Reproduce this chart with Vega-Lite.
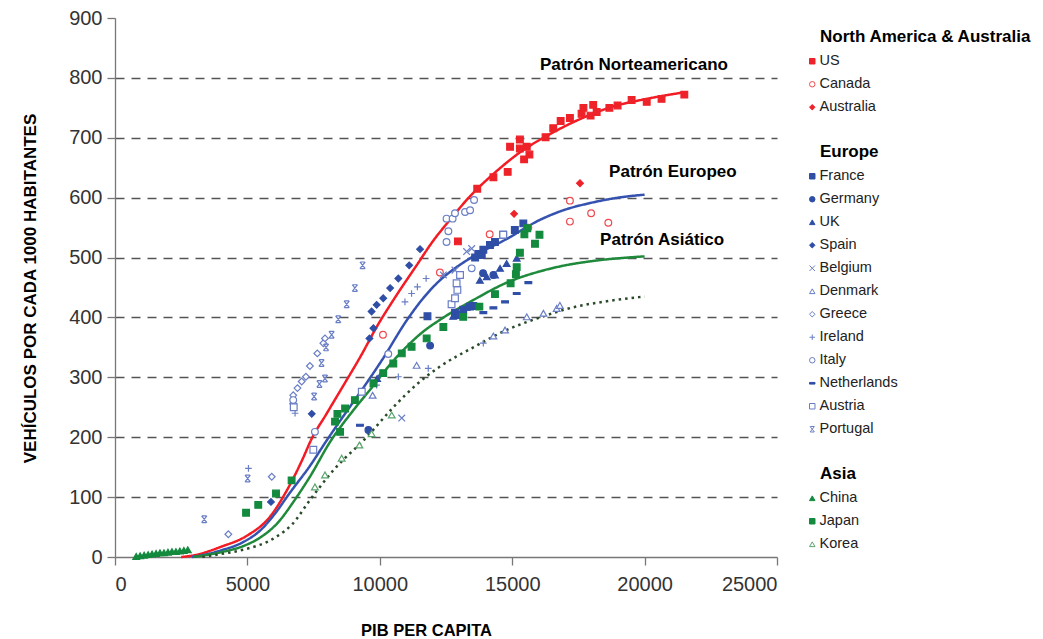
{
"$schema":"https://vega.github.io/schema/vega-lite/v6.json",
"width":662,"height":539,
"autosize":"none",
"padding":{"left":115,"top":18,"right":266,"bottom":82},
"background":"white",
"config":{"view":{"stroke":null},"font":"Liberation Sans",
 "legend":{"orient":"right","offset":32,"padding":11,"titleFontSize":17,"titleFontWeight":"bold","titleColor":"#000","labelFontSize":14.5,"labelColor":"#222","rowPadding":8,"titlePadding":8,"symbolSize":30,"symbolStrokeWidth":1,"symbolOffset":-15,"labelOffset":0,"titleLimit":400}},
"datasets":{
"pts":[
{"group":"NA","country":"US","gdp":12950,"veh":527},{"group":"NA","country":"US","gdp":13680,"veh":615},{"group":"NA","country":"US","gdp":14290,"veh":634},{"group":"NA","country":"US","gdp":14830,"veh":643},{"group":"NA","country":"US","gdp":14920,"veh":685},{"group":"NA","country":"US","gdp":15290,"veh":697},{"group":"NA","country":"US","gdp":15290,"veh":682},{"group":"NA","country":"US","gdp":15550,"veh":685},{"group":"NA","country":"US","gdp":15450,"veh":664},{"group":"NA","country":"US","gdp":15650,"veh":672},{"group":"NA","country":"US","gdp":16260,"veh":701},{"group":"NA","country":"US","gdp":16550,"veh":716},{"group":"NA","country":"US","gdp":16830,"veh":728},{"group":"NA","country":"US","gdp":17180,"veh":733},{"group":"NA","country":"US","gdp":17620,"veh":740},{"group":"NA","country":"US","gdp":17690,"veh":750},{"group":"NA","country":"US","gdp":17960,"veh":737},{"group":"NA","country":"US","gdp":18060,"veh":755},{"group":"NA","country":"US","gdp":18190,"veh":743},{"group":"NA","country":"US","gdp":18670,"veh":750},{"group":"NA","country":"US","gdp":18980,"veh":754},{"group":"NA","country":"US","gdp":19510,"veh":763},{"group":"NA","country":"US","gdp":20080,"veh":760},{"group":"NA","country":"US","gdp":20640,"veh":765},{"group":"NA","country":"US","gdp":21500,"veh":772},
{"group":"NA","country":"Canada","gdp":10120,"veh":371},{"group":"NA","country":"Canada","gdp":12270,"veh":475},{"group":"NA","country":"Canada","gdp":14150,"veh":539},{"group":"NA","country":"Canada","gdp":15610,"veh":550},{"group":"NA","country":"Canada","gdp":17180,"veh":595},{"group":"NA","country":"Canada","gdp":17180,"veh":560},{"group":"NA","country":"Canada","gdp":17980,"veh":574},{"group":"NA","country":"Canada","gdp":18630,"veh":558},
{"group":"NA","country":"Australia","gdp":15070,"veh":573},{"group":"NA","country":"Australia","gdp":17560,"veh":624},
{"group":"EU","country":"France","gdp":11800,"veh":402},{"group":"EU","country":"France","gdp":12840,"veh":408},{"group":"EU","country":"France","gdp":12960,"veh":404},{"group":"EU","country":"France","gdp":13150,"veh":413},{"group":"EU","country":"France","gdp":13410,"veh":418},{"group":"EU","country":"France","gdp":13530,"veh":419},{"group":"EU","country":"France","gdp":13720,"veh":506},{"group":"EU","country":"France","gdp":13850,"veh":504},{"group":"EU","country":"France","gdp":13910,"veh":513},{"group":"EU","country":"France","gdp":14160,"veh":521},{"group":"EU","country":"France","gdp":14350,"veh":526},{"group":"EU","country":"France","gdp":14660,"veh":538},{"group":"EU","country":"France","gdp":15100,"veh":546},{"group":"EU","country":"France","gdp":15420,"veh":557},{"group":"EU","country":"France","gdp":13600,"veh":500},
{"group":"EU","country":"Germany","gdp":9570,"veh":212},{"group":"EU","country":"Germany","gdp":11900,"veh":353},{"group":"EU","country":"Germany","gdp":14290,"veh":471},{"group":"EU","country":"Germany","gdp":13900,"veh":474},
{"group":"EU","country":"UK","gdp":12770,"veh":402},{"group":"EU","country":"UK","gdp":13280,"veh":417},{"group":"EU","country":"UK","gdp":13780,"veh":462},{"group":"EU","country":"UK","gdp":14040,"veh":468},{"group":"EU","country":"UK","gdp":14350,"veh":471},{"group":"EU","country":"UK","gdp":14540,"veh":482},{"group":"EU","country":"UK","gdp":14790,"veh":490},{"group":"EU","country":"UK","gdp":15170,"veh":499},{"group":"EU","country":"UK","gdp":10070,"veh":307},{"group":"EU","country":"UK","gdp":9900,"veh":298},
{"group":"EU","country":"Spain","gdp":5890,"veh":92},{"group":"EU","country":"Spain","gdp":7430,"veh":239},{"group":"EU","country":"Spain","gdp":9610,"veh":365},{"group":"EU","country":"Spain","gdp":9760,"veh":382},{"group":"EU","country":"Spain","gdp":9690,"veh":410},{"group":"EU","country":"Spain","gdp":9880,"veh":421},{"group":"EU","country":"Spain","gdp":10130,"veh":432},{"group":"EU","country":"Spain","gdp":10390,"veh":449},{"group":"EU","country":"Spain","gdp":10700,"veh":465},{"group":"EU","country":"Spain","gdp":11110,"veh":487},{"group":"EU","country":"Spain","gdp":11520,"veh":514},
{"group":"EU","country":"Belgium","gdp":13280,"veh":510},{"group":"EU","country":"Belgium","gdp":13470,"veh":515},{"group":"EU","country":"Belgium","gdp":12400,"veh":471},{"group":"EU","country":"Belgium","gdp":12840,"veh":479},{"group":"EU","country":"Belgium","gdp":10830,"veh":232},
{"group":"EU","country":"Denmark","gdp":11390,"veh":320},{"group":"EU","country":"Denmark","gdp":9730,"veh":270},{"group":"EU","country":"Denmark","gdp":14290,"veh":369},{"group":"EU","country":"Denmark","gdp":14730,"veh":379},{"group":"EU","country":"Denmark","gdp":15550,"veh":401},{"group":"EU","country":"Denmark","gdp":16180,"veh":407},{"group":"EU","country":"Denmark","gdp":16680,"veh":415},{"group":"EU","country":"Denmark","gdp":16800,"veh":420},
{"group":"EU","country":"Greece","gdp":4280,"veh":38},{"group":"EU","country":"Greece","gdp":5920,"veh":134},{"group":"EU","country":"Greece","gdp":6730,"veh":270},{"group":"EU","country":"Greece","gdp":6890,"veh":282},{"group":"EU","country":"Greece","gdp":7050,"veh":293},{"group":"EU","country":"Greece","gdp":7210,"veh":301},{"group":"EU","country":"Greece","gdp":7360,"veh":319},{"group":"EU","country":"Greece","gdp":7640,"veh":340},{"group":"EU","country":"Greece","gdp":7870,"veh":357},{"group":"EU","country":"Greece","gdp":7930,"veh":365},{"group":"EU","country":"Greece","gdp":6730,"veh":256},
{"group":"EU","country":"Ireland","gdp":5040,"veh":148},{"group":"EU","country":"Ireland","gdp":6800,"veh":240},{"group":"EU","country":"Ireland","gdp":9880,"veh":287},{"group":"EU","country":"Ireland","gdp":10700,"veh":301},{"group":"EU","country":"Ireland","gdp":10950,"veh":426},{"group":"EU","country":"Ireland","gdp":11200,"veh":440},{"group":"EU","country":"Ireland","gdp":11420,"veh":451},{"group":"EU","country":"Ireland","gdp":11750,"veh":465},{"group":"EU","country":"Ireland","gdp":11830,"veh":315},{"group":"EU","country":"Ireland","gdp":13910,"veh":357},
{"group":"EU","country":"Italy","gdp":7550,"veh":209},{"group":"EU","country":"Italy","gdp":10320,"veh":339},{"group":"EU","country":"Italy","gdp":12520,"veh":526},{"group":"EU","country":"Italy","gdp":12590,"veh":544},{"group":"EU","country":"Italy","gdp":12520,"veh":565},{"group":"EU","country":"Italy","gdp":12750,"veh":565},{"group":"EU","country":"Italy","gdp":12840,"veh":574},{"group":"EU","country":"Italy","gdp":13220,"veh":576},{"group":"EU","country":"Italy","gdp":13410,"veh":579},{"group":"EU","country":"Italy","gdp":13560,"veh":596},{"group":"EU","country":"Italy","gdp":6730,"veh":262},{"group":"EU","country":"Italy","gdp":13470,"veh":482},
{"group":"EU","country":"Netherlands","gdp":9250,"veh":220},{"group":"EU","country":"Netherlands","gdp":13910,"veh":408},{"group":"EU","country":"Netherlands","gdp":14290,"veh":416},{"group":"EU","country":"Netherlands","gdp":14730,"veh":426},{"group":"EU","country":"Netherlands","gdp":15170,"veh":440},{"group":"EU","country":"Netherlands","gdp":15610,"veh":458},
{"group":"EU","country":"Austria","gdp":7490,"veh":179},{"group":"EU","country":"Austria","gdp":9320,"veh":276},{"group":"EU","country":"Austria","gdp":12710,"veh":422},{"group":"EU","country":"Austria","gdp":12840,"veh":432},{"group":"EU","country":"Austria","gdp":12930,"veh":446},{"group":"EU","country":"Austria","gdp":12900,"veh":457},{"group":"EU","country":"Austria","gdp":13030,"veh":471},{"group":"EU","country":"Austria","gdp":14660,"veh":538},{"group":"EU","country":"Austria","gdp":6750,"veh":250},
{"group":"EU","country":"Portugal","gdp":3370,"veh":63},{"group":"EU","country":"Portugal","gdp":5010,"veh":131},{"group":"EU","country":"Portugal","gdp":7520,"veh":268},{"group":"EU","country":"Portugal","gdp":7720,"veh":289},{"group":"EU","country":"Portugal","gdp":7930,"veh":298},{"group":"EU","country":"Portugal","gdp":7800,"veh":324},{"group":"EU","country":"Portugal","gdp":7970,"veh":350},{"group":"EU","country":"Portugal","gdp":8180,"veh":371},{"group":"EU","country":"Portugal","gdp":8430,"veh":397},{"group":"EU","country":"Portugal","gdp":8750,"veh":422},{"group":"EU","country":"Portugal","gdp":9060,"veh":449},{"group":"EU","country":"Portugal","gdp":9350,"veh":487},
{"group":"AS","country":"China","gdp":800,"veh":1},{"group":"AS","country":"China","gdp":950,"veh":2},{"group":"AS","country":"China","gdp":1100,"veh":3},{"group":"AS","country":"China","gdp":1250,"veh":4},{"group":"AS","country":"China","gdp":1400,"veh":5},{"group":"AS","country":"China","gdp":1550,"veh":6},{"group":"AS","country":"China","gdp":1700,"veh":7},{"group":"AS","country":"China","gdp":1850,"veh":7},{"group":"AS","country":"China","gdp":2000,"veh":8},{"group":"AS","country":"China","gdp":2150,"veh":9},{"group":"AS","country":"China","gdp":2300,"veh":9},{"group":"AS","country":"China","gdp":2450,"veh":10},{"group":"AS","country":"China","gdp":2600,"veh":11},{"group":"AS","country":"China","gdp":2750,"veh":12},
{"group":"AS","country":"Japan","gdp":4950,"veh":74},{"group":"AS","country":"Japan","gdp":5410,"veh":87},{"group":"AS","country":"Japan","gdp":6080,"veh":106},{"group":"AS","country":"Japan","gdp":6670,"veh":128},{"group":"AS","country":"Japan","gdp":8310,"veh":226},{"group":"AS","country":"Japan","gdp":8400,"veh":239},{"group":"AS","country":"Japan","gdp":8500,"veh":209},{"group":"AS","country":"Japan","gdp":8690,"veh":248},{"group":"AS","country":"Japan","gdp":9060,"veh":262},{"group":"AS","country":"Japan","gdp":9760,"veh":290},{"group":"AS","country":"Japan","gdp":10130,"veh":307},{"group":"AS","country":"Japan","gdp":10510,"veh":323},{"group":"AS","country":"Japan","gdp":10830,"veh":340},{"group":"AS","country":"Japan","gdp":11200,"veh":351},{"group":"AS","country":"Japan","gdp":11770,"veh":365},{"group":"AS","country":"Japan","gdp":12400,"veh":384},{"group":"AS","country":"Japan","gdp":13150,"veh":401},{"group":"AS","country":"Japan","gdp":13760,"veh":418},{"group":"AS","country":"Japan","gdp":14350,"veh":439},{"group":"AS","country":"Japan","gdp":14940,"veh":457},{"group":"AS","country":"Japan","gdp":15140,"veh":472},{"group":"AS","country":"Japan","gdp":15170,"veh":484},{"group":"AS","country":"Japan","gdp":15290,"veh":508},{"group":"AS","country":"Japan","gdp":15460,"veh":539},{"group":"AS","country":"Japan","gdp":15570,"veh":549},{"group":"AS","country":"Japan","gdp":15860,"veh":523},{"group":"AS","country":"Japan","gdp":16030,"veh":538},
{"group":"AS","country":"Korea","gdp":7550,"veh":117},{"group":"AS","country":"Korea","gdp":7930,"veh":137},{"group":"AS","country":"Korea","gdp":8560,"veh":165},{"group":"AS","country":"Korea","gdp":9230,"veh":187},{"group":"AS","country":"Korea","gdp":9690,"veh":206},{"group":"AS","country":"Korea","gdp":10450,"veh":237}
],
"trend":[
{"pattern":"Norteamericano","gdp":2500,"veh":0},{"pattern":"Norteamericano","gdp":3000,"veh":3},{"pattern":"Norteamericano","gdp":4000,"veh":17},{"pattern":"Norteamericano","gdp":5000,"veh":36},{"pattern":"Norteamericano","gdp":5850,"veh":67},{"pattern":"Norteamericano","gdp":6500,"veh":112},{"pattern":"Norteamericano","gdp":7100,"veh":165},{"pattern":"Norteamericano","gdp":7400,"veh":195},{"pattern":"Norteamericano","gdp":8000,"veh":240},{"pattern":"Norteamericano","gdp":8620,"veh":286},{"pattern":"Norteamericano","gdp":9300,"veh":337},{"pattern":"Norteamericano","gdp":9880,"veh":384},{"pattern":"Norteamericano","gdp":10600,"veh":435},{"pattern":"Norteamericano","gdp":11390,"veh":487},{"pattern":"Norteamericano","gdp":12000,"veh":527},{"pattern":"Norteamericano","gdp":12650,"veh":563},{"pattern":"Norteamericano","gdp":13400,"veh":602},{"pattern":"Norteamericano","gdp":14300,"veh":640},{"pattern":"Norteamericano","gdp":15400,"veh":679},{"pattern":"Norteamericano","gdp":16300,"veh":703},{"pattern":"Norteamericano","gdp":17500,"veh":730},{"pattern":"Norteamericano","gdp":18800,"veh":752},{"pattern":"Norteamericano","gdp":20200,"veh":766},{"pattern":"Norteamericano","gdp":21500,"veh":776},
{"pattern":"Europeo","gdp":2900,"veh":0},{"pattern":"Europeo","gdp":3500,"veh":5},{"pattern":"Europeo","gdp":4000,"veh":11},{"pattern":"Europeo","gdp":4800,"veh":24},{"pattern":"Europeo","gdp":5500,"veh":45},{"pattern":"Europeo","gdp":6000,"veh":70},{"pattern":"Europeo","gdp":6600,"veh":107},{"pattern":"Europeo","gdp":7360,"veh":152},{"pattern":"Europeo","gdp":8000,"veh":195},{"pattern":"Europeo","gdp":8700,"veh":240},{"pattern":"Europeo","gdp":9400,"veh":284},{"pattern":"Europeo","gdp":10100,"veh":330},{"pattern":"Europeo","gdp":11000,"veh":394},{"pattern":"Europeo","gdp":11600,"veh":430},{"pattern":"Europeo","gdp":12270,"veh":462},{"pattern":"Europeo","gdp":12900,"veh":484},{"pattern":"Europeo","gdp":13530,"veh":502},{"pattern":"Europeo","gdp":14790,"veh":531},{"pattern":"Europeo","gdp":16050,"veh":563},{"pattern":"Europeo","gdp":17000,"veh":580},{"pattern":"Europeo","gdp":17940,"veh":591},{"pattern":"Europeo","gdp":19000,"veh":600},{"pattern":"Europeo","gdp":20000,"veh":605},
{"pattern":"Asiático","gdp":2950,"veh":0},{"pattern":"Asiático","gdp":4000,"veh":8},{"pattern":"Asiático","gdp":4830,"veh":18},{"pattern":"Asiático","gdp":5500,"veh":33},{"pattern":"Asiático","gdp":6100,"veh":55},{"pattern":"Asiático","gdp":6860,"veh":100},{"pattern":"Asiático","gdp":7360,"veh":134},{"pattern":"Asiático","gdp":8120,"veh":192},{"pattern":"Asiático","gdp":9000,"veh":245},{"pattern":"Asiático","gdp":9700,"veh":283},{"pattern":"Asiático","gdp":10400,"veh":322},{"pattern":"Asiático","gdp":11010,"veh":351},{"pattern":"Asiático","gdp":11600,"veh":375},{"pattern":"Asiático","gdp":12270,"veh":396},{"pattern":"Asiático","gdp":13530,"veh":429},{"pattern":"Asiático","gdp":14790,"veh":458},{"pattern":"Asiático","gdp":16050,"veh":477},{"pattern":"Asiático","gdp":17000,"veh":487},{"pattern":"Asiático","gdp":18000,"veh":494},{"pattern":"Asiático","gdp":20000,"veh":502},
{"pattern":"Punteado","gdp":3300,"veh":0},{"pattern":"Punteado","gdp":4000,"veh":5},{"pattern":"Punteado","gdp":4830,"veh":12},{"pattern":"Punteado","gdp":6100,"veh":34},{"pattern":"Punteado","gdp":6700,"veh":55},{"pattern":"Punteado","gdp":7360,"veh":95},{"pattern":"Punteado","gdp":8250,"veh":145},{"pattern":"Punteado","gdp":9500,"veh":200},{"pattern":"Punteado","gdp":10510,"veh":250},{"pattern":"Punteado","gdp":11390,"veh":288},{"pattern":"Punteado","gdp":12270,"veh":318},{"pattern":"Punteado","gdp":13530,"veh":350},{"pattern":"Punteado","gdp":14790,"veh":379},{"pattern":"Punteado","gdp":16050,"veh":400},{"pattern":"Punteado","gdp":17310,"veh":417},{"pattern":"Punteado","gdp":18570,"veh":427},{"pattern":"Punteado","gdp":20000,"veh":435}
],
"labels":[
{"label":"Patrón Norteamericano","gdp":16050,"veh":821},
{"label":"Patrón Europeo","gdp":18660,"veh":643},
{"label":"Patrón Asiático","gdp":18320,"veh":529}
]
},
"layer":[
{"data":{"name":"trend"},
 "mark":{"type":"line","strokeWidth":2.5,"interpolate":"monotone"},
 "encoding":{
  "x":{"field":"gdp","type":"quantitative","title":"PIB PER CAPITA","scale":{"domain":[0,25000],"nice":false},"axis":{"values":[0,5000,10000,15000,20000,25000],"format":"d","grid":false,"labelFontSize":20,"labelColor":"#333","labelPadding":9,"tickSize":8,"tickColor":"#777","domainColor":"#777","domainWidth":1.3,"tickWidth":1.3,"titleFontSize":16.5,"titleFontWeight":"bold","titleColor":"#000","titleX":311,"titleY":73,"titleBaseline":"middle"}},
  "y":{"field":"veh","type":"quantitative","title":"VEHÍCULOS POR CADA 1000 HABITANTES","scale":{"domain":[0,900],"nice":false},"axis":{"values":[0,100,200,300,400,500,600,700,800,900],"grid":true,"gridDash":[9,7],"gridColor":"#555","gridWidth":1.4,"gridOpacity":{"condition":{"test":"datum.value==0||datum.value==900","value":0},"value":1},"labelFontSize":20,"labelColor":"#333","labelPadding":5,"tickSize":8,"tickColor":"#777","domainColor":"#777","domainWidth":1.3,"tickWidth":1.3,"titleFontSize":17,"titleFontWeight":"bold","titleColor":"#000","titleX":-85,"titleY":270,"titleBaseline":"middle","titleAlign":"center"}},
  "color":{"field":"pattern","type":"nominal","legend":null,"scale":{"domain":["Norteamericano","Europeo","Asiático","Punteado"],"range":["#f41c24","#3552b0","#1f8a3c","#2a4a2a"]}},
  "strokeDash":{"field":"pattern","type":"nominal","legend":null,"scale":{"domain":["Norteamericano","Europeo","Asiático","Punteado"],"range":[[1,0],[1,0],[1,0],[2.5,4]]}}
 }},
{"data":{"name":"pts"},"transform":[{"filter":"datum.group=='NA'"}],
 "mark":{"type":"point","size":45,"strokeWidth":1.2,"opacity":1},
 "encoding":{
  "x":{"field":"gdp","type":"quantitative","title":"PIB PER CAPITA"},
  "y":{"field":"veh","type":"quantitative","title":"VEHÍCULOS POR CADA 1000 HABITANTES"},
  "shape":{"field":"country","type":"nominal","title":"North America & Australia","scale":{"domain":["US","Canada","Australia"],"range":["square","circle","diamond"]}},
  "fill":{"field":"country","type":"nominal","title":"North America & Australia","scale":{"domain":["US","Canada","Australia"],"range":["#ee2229","white","#ee2229"]}},
  "stroke":{"field":"country","type":"nominal","title":"North America & Australia","scale":{"domain":["US","Canada","Australia"],"range":["#ee2229","#ee4a50","#ee2229"]}}
 }},
{"data":{"name":"pts"},"transform":[{"filter":"datum.group=='EU'"}],
 "mark":{"type":"point","size":45,"strokeWidth":1.2,"opacity":1},
 "encoding":{
  "x":{"field":"gdp","type":"quantitative","title":"PIB PER CAPITA"},
  "y":{"field":"veh","type":"quantitative","title":"VEHÍCULOS POR CADA 1000 HABITANTES"},
  "shape":{"field":"country","type":"nominal","title":"Europe","scale":{"domain":["France","Germany","UK","Spain","Belgium","Denmark","Greece","Ireland","Italy","Netherlands","Austria","Portugal"],"range":["square","circle","triangle-up","diamond","M-1,-1L1,1M-1,1L1,-1","triangle-up","diamond","M-1,0L1,0M0,-1L0,1","circle","M-1,-0.3L1,-0.3L1,0.3L-1,0.3Z","square","M-0.8,-1L0.8,1M-0.8,1L0.8,-1M-0.7,-1L0.7,-1M-0.7,1L0.7,1"]}},
  "fill":{"field":"country","type":"nominal","title":"Europe","scale":{"domain":["France","Germany","UK","Spain","Belgium","Denmark","Greece","Ireland","Italy","Netherlands","Austria","Portugal"],"range":["#2f4ea6","#2f4ea6","#2f4ea6","#2f4ea6","white","white","white","white","white","#2f4ea6","white","white"]}},
  "stroke":{"field":"country","type":"nominal","title":"Europe","scale":{"domain":["France","Germany","UK","Spain","Belgium","Denmark","Greece","Ireland","Italy","Netherlands","Austria","Portugal"],"range":["#2f4ea6","#2f4ea6","#2f4ea6","#2f4ea6","#6a7ec5","#6a7ec5","#6a7ec5","#6a7ec5","#6a7ec5","#2f4ea6","#6a7ec5","#6a7ec5"]}}
 }},
{"data":{"name":"pts"},"transform":[{"filter":"datum.group=='AS'"}],
 "mark":{"type":"point","size":45,"strokeWidth":1.2,"opacity":1},
 "encoding":{
  "x":{"field":"gdp","type":"quantitative","title":"PIB PER CAPITA"},
  "y":{"field":"veh","type":"quantitative","title":"VEHÍCULOS POR CADA 1000 HABITANTES"},
  "shape":{"field":"country","type":"nominal","title":"Asia","scale":{"domain":["China","Japan","Korea"],"range":["triangle-up","square","triangle-up"]}},
  "fill":{"field":"country","type":"nominal","title":"Asia","scale":{"domain":["China","Japan","Korea"],"range":["#138a3e","#138a3e","white"]}},
  "stroke":{"field":"country","type":"nominal","title":"Asia","scale":{"domain":["China","Japan","Korea"],"range":["#138a3e","#138a3e","#5aa46e"]}}
 }},
{"data":{"name":"labels"},
 "mark":{"type":"text","align":"left","baseline":"middle","fontWeight":"bold","fontSize":17,"color":"#000"},
 "encoding":{
  "x":{"field":"gdp","type":"quantitative","title":"PIB PER CAPITA"},
  "y":{"field":"veh","type":"quantitative","title":"VEHÍCULOS POR CADA 1000 HABITANTES"},
  "text":{"field":"label"}
 }}
],
"resolve":{"scale":{"shape":"independent","fill":"independent","stroke":"independent"}}
}
